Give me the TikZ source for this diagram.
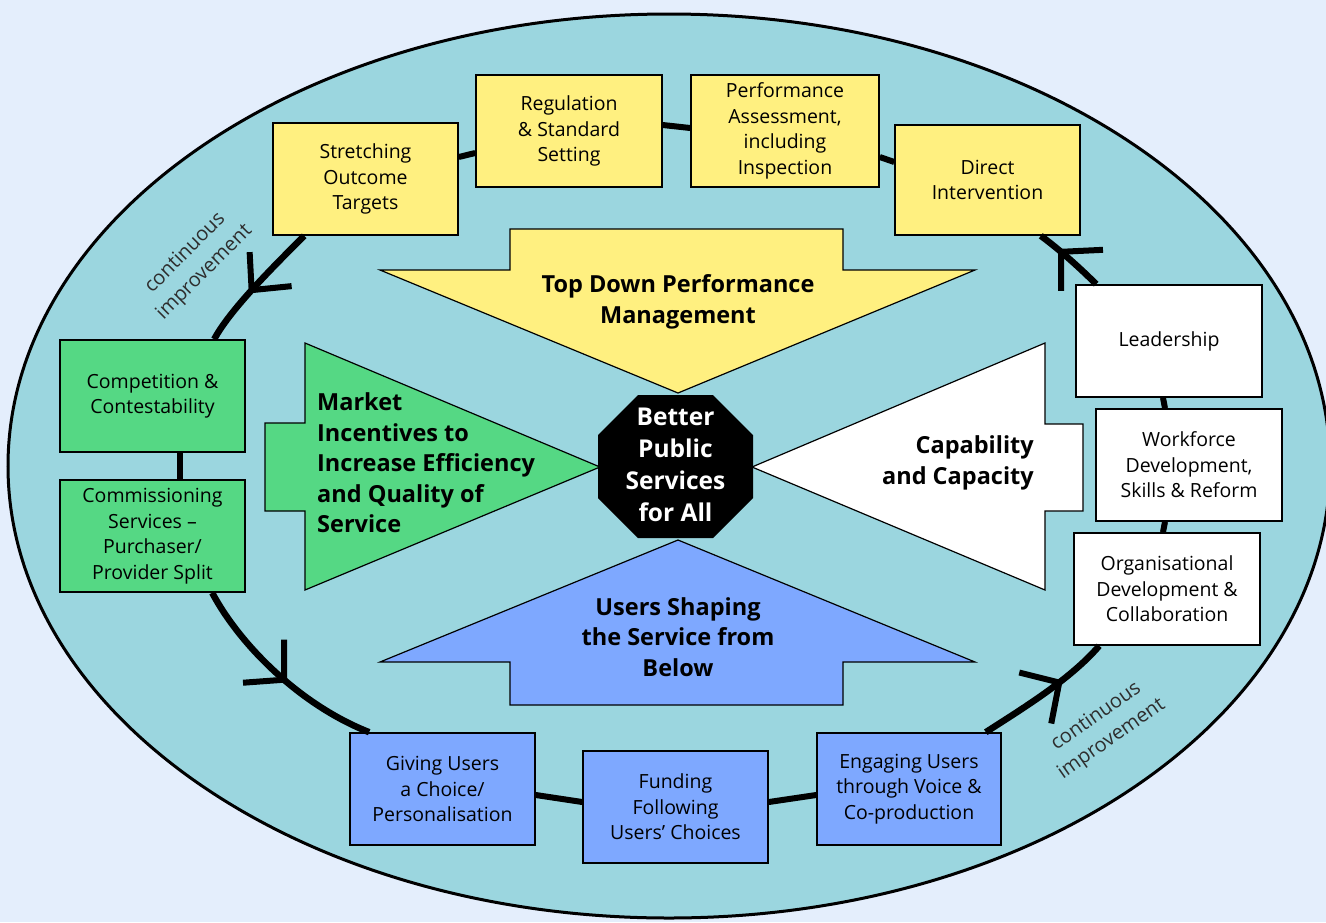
\documentclass[tikz,border=0pt]{standalone}
\usepackage{fontspec}
\setmainfont{Open Sans}
\usetikzlibrary{decorations.markings,calc}
\definecolor{bgc}{HTML}{E4EEFC}
\definecolor{ell}{HTML}{9BD6DF}
\definecolor{yel}{HTML}{FFF080}
\definecolor{grn}{HTML}{55D884}
\definecolor{blu}{HTML}{7EA8FF}
\definecolor{lab}{HTML}{2E2E2E}
\begin{document}
\begin{tikzpicture}[x=1pt,y=-1pt,
  box/.style={draw=black, line width=1.6pt, minimum width=185pt, minimum height=112pt,
    inner sep=0pt, align=center, font=\fontsize{19.5}{25.5}\selectfont},
  bigarrow/.style={draw=black, line width=1.2pt},
  arrowtext/.style={align=center, inner sep=0pt, font=\fontsize{23.5}{30.5}\selectfont\bfseries},
  link/.style={line width=6pt},
  cyc/.style 2 args={line width=6.5pt, postaction={decorate},
    decoration={markings, mark=at position #1 with {\coordinate (#2);}}},
  barb/.style={line width=6pt, line join=miter},
  cilabel/.style={text=lab, align=center, inner sep=0pt, font=\fontsize{20}{27}\selectfont}
]
\fill[bgc] (0,0) rectangle (1326,922);
\useasboundingbox (0,0) rectangle (1326,922);
\draw[fill=ell, line width=3pt] (669,466) ellipse [x radius=661, y radius=452];

% central arrows
\draw[bigarrow, fill=yel] (510,229) -- (843,229) -- (843,270) -- (975,270) -- (678,393) -- (380,270) -- (510,270) -- cycle;
\draw[bigarrow, fill=blu] (510,705) -- (843,705) -- (843,662) -- (975,662) -- (678,540) -- (380,662) -- (510,662) -- cycle;
\draw[bigarrow, fill=grn] (265,423) -- (305,423) -- (305,343) -- (600,467) -- (305,590) -- (305,511) -- (265,511) -- cycle;
\draw[bigarrow, fill=white] (1083,424) -- (1045,424) -- (1045,343) -- (752,467) -- (1045,590) -- (1045,511) -- (1083,511) -- cycle;
\node[arrowtext] (tdt) at (678,302) {Top Down Performance\\Management};
\node[arrowtext] (ust) at (678,637) {Users Shaping\\the Service from\\Below};
\node[arrowtext, align=left, anchor=west] (mit) at (317,463) {Market\\Incentives to\\Increase Efficiency\\and Quality of\\Service};
\node[arrowtext, align=right, anchor=east] (cct) at (1034,463) {Capability\\and Capacity};

% octagon
\fill[black] (638,395) -- (713,395) -- (753,435) -- (753,498) -- (713,538) -- (638,538) -- (598,498) -- (598,435) -- cycle;
\node[text=white, align=center, inner sep=0pt, font=\fontsize{24.5}{32}\selectfont\bfseries] (core) at (675.5,465) {Better\\Public\\Services\\for All};

% boxes
\node[box, fill=yel] (st) at (365.5,179) {Stretching\\Outcome\\Targets};
\node[box, fill=yel, minimum width=186pt] (rg) at (569,131) {Regulation\\\& Standard\\Setting};
\node[box, fill=yel, minimum width=188pt] (pa) at (785,131) {Performance\\Assessment,\\including\\Inspection};
\node[box, fill=yel, minimum height=110pt] (di) at (987.5,180) {Direct\\Intervention};
\node[box, fill=white, minimum width=186pt] (ld) at (1169,341) {Leadership};
\node[box, fill=white, minimum width=186pt] (wf) at (1189,465) {Workforce\\Development,\\Skills \& Reform};
\node[box, fill=white, minimum width=186pt] (od) at (1167,589) {Organisational\\Development \&\\Collaboration};
\node[box, fill=blu, minimum width=184pt] (en) at (909,789) {Engaging Users\\through Voice \&\\Co-production};
\node[box, fill=blu] (fu) at (675.5,807) {Funding\\Following\\Users’ Choices};
\node[box, fill=blu] (gv) at (442.5,789) {Giving Users\\a Choice/\\Personalisation};
\node[box, fill=grn] (cm) at (152.5,536) {Commissioning\\Services –\\Purchaser/\\Provider Split};
\node[box, fill=grn] (cp) at (152.5,396) {Competition \&\\Contestability};

% short links
\draw[link] ($(st.east)+(0,-22)$) -- ($(rg.west)+(0,22)$);
\draw[link] ($(rg.east)+(0,-6)$) -- ($(pa.west)+(0,-3)$);
\draw[link] ($(pa.east)+(0,26)$) -- ($(di.west)+(0,-18)$);
\draw[link] ($(ld.south)+(-6,0)$) -- ($(wf.north)+(-24,0)$);
\draw[link] ($(wf.south)+(-24,0)$) -- ($(od.north)+(-4,0)$);
\draw[link] ($(cp.south)+(27.5,0)$) -- ($(cm.north)+(27.5,0)$);
\draw[link] ($(gv.east)+(0,6)$) -- ($(fu.west)+(0,-5)$);
\draw[link] ($(fu.east)+(0,-5)$) -- ($(en.west)+(0,6)$);

% cycle arcs with arrow tips
\draw[cyc={0.55}{t1}] ($(st.south west)+(32,0)$) .. controls (270,270) and (230,310) .. ($(cp.north west)+(155,0)$);
\draw[cyc={0.53}{t2}] ($(cm.south west)+(153,0)$) .. controls (240,645) and (300,705) .. ($(gv.north west)+(20,0)$);
\draw[cyc={0.62}{t3}] ($(en.north east)+(-16,0)$) .. controls (1020,710) and (1070,680) .. ($(od.south west)+(26,0)$);
\draw[cyc={0.65}{t4}] ($(ld.north west)+(21,0)$) .. controls (1080,268) and (1060,250) .. ($(di.south east)+(-40,0)$);
\draw[barb] ($(t1)+(-2,-38)$) -- (t1) -- ($(t1)+(40,-4)$);
\draw[barb] ($(t2)+(0,-40)$) -- (t2) -- ($(t2)+(-41,3)$);
\draw[barb] ($(t3)+(-40,-10)$) -- (t3) -- ($(t3)+(-8,41)$);
\draw[barb] ($(t4)+(42,-2)$) -- (t4) -- ($(t4)+(0,39)$);

% labels
\node[cilabel, rotate=45] (ci1) at (195,263) {continuous\\improvement};
\node[cilabel, rotate=35] (ci2) at (1104,728) {continuous\\improvement};
\end{tikzpicture}
\end{document}
